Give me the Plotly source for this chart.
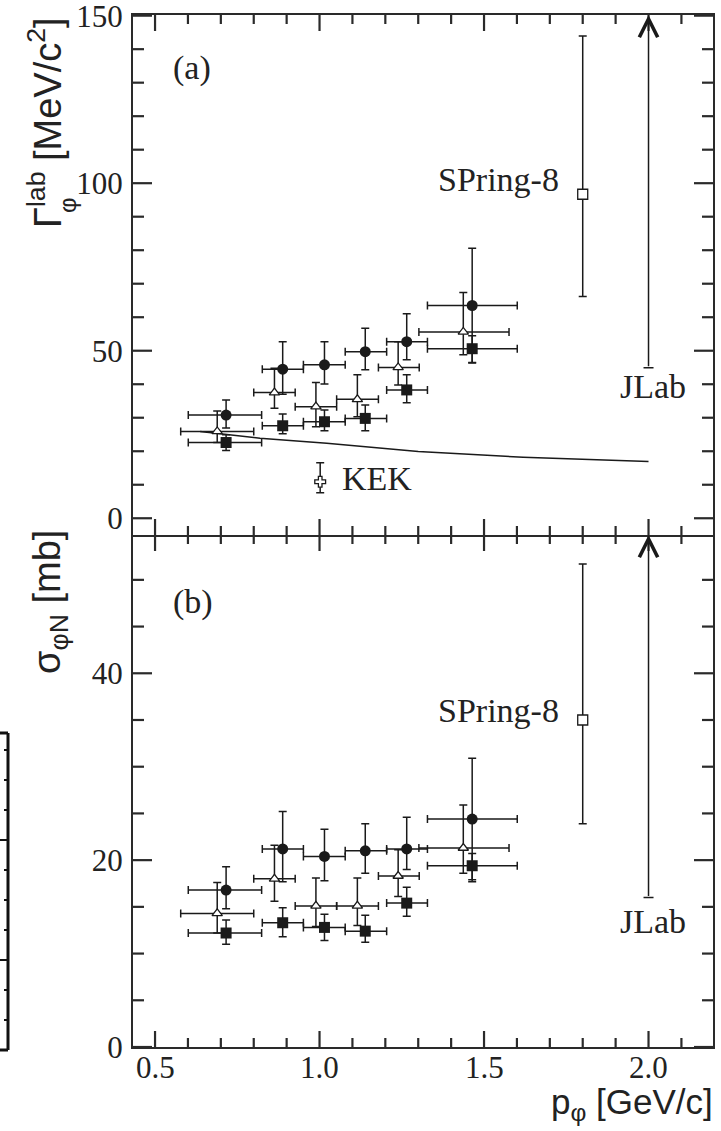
import plotly.graph_objects as go

# ---------------- data ----------------
p_main = [0.716, 0.888, 1.015, 1.139, 1.265, 1.464]
p_main_lo = [0.601, 0.826, 0.951, 1.078, 1.204, 1.328]
p_main_hi = [0.824, 0.951, 1.078, 1.204, 1.328, 1.601]
p_tri = [0.689, 0.863, 0.989, 1.115, 1.239, 1.437]
p_tri_lo = [0.578, 0.800, 0.926, 1.052, 1.179, 1.302]
p_tri_hi = [0.800, 0.926, 1.052, 1.179, 1.303, 1.576]

gam_circ = [30.8, 44.5, 45.8, 49.7, 52.7, 63.5]
gam_circ_up = [4.5, 8.2, 6.9, 7.0, 8.3, 17.1]
gam_circ_dn = [3.9, 7.5, 5.7, 5.4, 5.4, 17.0]
gam_sq = [22.6, 27.6, 28.8, 29.8, 38.3, 50.6]
gam_sq_up = [2.3, 3.5, 3.5, 4.0, 4.5, 3.9]
gam_sq_dn = [2.4, 2.4, 2.7, 3.7, 3.8, 4.3]
gam_tri = [25.9, 37.5, 33.3, 35.5, 45.0, 55.6]
gam_tri_up = [6.1, 7.3, 7.2, 7.3, 7.7, 11.8]
gam_tri_dn = [3.3, 4.7, 6.0, 5.2, 5.2, 6.8]

sig_circ = [16.8, 21.2, 20.4, 21.0, 21.2, 24.4]
sig_circ_up = [2.5, 4.0, 2.9, 2.9, 3.4, 6.5]
sig_circ_dn = [2.0, 3.5, 2.6, 2.4, 2.2, 6.5]
sig_sq = [12.2, 13.3, 12.8, 12.4, 15.4, 19.4]
sig_sq_up = [1.4, 1.6, 1.4, 1.7, 1.7, 1.3]
sig_sq_dn = [1.2, 1.5, 1.4, 1.2, 1.4, 1.7]
sig_tri = [14.3, 18.0, 15.1, 15.1, 18.3, 21.3]
sig_tri_up = [3.3, 3.6, 3.0, 3.0, 2.8, 4.6]
sig_tri_dn = [2.1, 2.4, 2.2, 2.1, 2.2, 2.7]

spring_p = [1.8]
spring_gam = [96.7]
spring_gam_up = [47.2]
spring_gam_dn = [30.5]
spring_sig = [35.0]
spring_sig_up = [16.7]
spring_sig_dn = [11.1]
jlab_p = [2.0]
jlab_gam_low = [44.9]
jlab_sig_low = [16.0]
kek_p = [1.002]
kek_gam = [10.9]
kek_gam_up = [5.7]
kek_gam_dn = [3.3]

curve_p = [0.637, 0.819, 1.022, 1.245, 1.300, 1.619, 2.0]
curve_gam = [25.9, 23.9, 22.4, 20.5, 19.9, 18.2, 16.9]

x_range = [0.433, 2.196]
x_ticks = [0.5, 1.0, 1.5, 2.0]
x_ticktext = ["0.5", "1.0", "1.5", "2.0"]
x_minor_step = 0.1
gam_range = [-5, 150.2]
gam_ticks = [0, 50, 100, 150]
gam_minor_step = 10
sig_range = [0, 54.8]
sig_ticks = [0, 20, 40]
sig_minor_step = 5

frag_minor_rows = [750, 780, 810, 870, 900, 930, 990, 1020]
frag_major_rows = [840, 960]

# ---------------- figure ----------------
W, H = 721, 1131
ML, MR, MT, MB = 133, 8, 15, 84
PW, PH = W - ML - MR, H - MT - MB
H_BOT = 512
H_TOP = PH - H_BOT
split = H_BOT / PH

INK = "#1a1a1a"
AX = "#2a2a2a"
SERIF = "Liberation Serif"
SANS = "Liberation Sans"


def minus(v, lo):
    return [a - b for a, b in zip(v, lo)]


def plus(v, hi):
    return [b - a for a, b in zip(v, hi)]


def ex(p, lo, hi):
    return dict(type="data", symmetric=False, array=plus(p, hi),
                arrayminus=minus(p, lo), color=INK, thickness=1.5, width=4)


def ey(up, dn):
    return dict(type="data", symmetric=False, array=up, arrayminus=dn,
                color=INK, thickness=1.5, width=4)


fig = go.Figure()

panels = [
    ("x2", "y2", gam_circ, gam_circ_up, gam_circ_dn, gam_sq, gam_sq_up, gam_sq_dn,
     gam_tri, gam_tri_up, gam_tri_dn, spring_gam, spring_gam_up, spring_gam_dn, jlab_gam_low),
    ("x", "y", sig_circ, sig_circ_up, sig_circ_dn, sig_sq, sig_sq_up, sig_sq_dn,
     sig_tri, sig_tri_up, sig_tri_dn, spring_sig, spring_sig_up, spring_sig_dn, jlab_sig_low),
]

for (xa, ya, c, cu, cd, s, su, sd, t, tu, td, sp, spu, spd, jl) in panels:
    if xa == "x2":
        fig.add_trace(go.Scatter(x=curve_p, y=curve_gam, mode="lines", xaxis=xa, yaxis=ya,
                                 line=dict(color=INK, width=1.5), showlegend=False))
        fig.add_trace(go.Scatter(x=kek_p, y=kek_gam, mode="markers", xaxis=xa, yaxis=ya,
                                 marker=dict(symbol="cross", size=9, color="white",
                                             line=dict(color=INK, width=1.3)),
                                 error_y=ey(kek_gam_up, kek_gam_dn), showlegend=False))
    fig.add_trace(go.Scatter(x=p_main, y=s, mode="markers", xaxis=xa, yaxis=ya,
                             marker=dict(symbol="square", size=11, color=INK),
                             error_x=ex(p_main, p_main_lo, p_main_hi), error_y=ey(su, sd),
                             showlegend=False))
    fig.add_trace(go.Scatter(x=p_main, y=c, mode="markers", xaxis=xa, yaxis=ya,
                             marker=dict(symbol="circle", size=11, color=INK),
                             error_x=ex(p_main, p_main_lo, p_main_hi), error_y=ey(cu, cd),
                             showlegend=False))
    fig.add_trace(go.Scatter(x=p_tri, y=t, mode="markers", xaxis=xa, yaxis=ya,
                             marker=dict(symbol="triangle-up", size=9, color="white",
                                         line=dict(color=INK, width=1.3)),
                             error_x=ex(p_tri, p_tri_lo, p_tri_hi), error_y=ey(tu, td),
                             showlegend=False))
    fig.add_trace(go.Scatter(x=spring_p, y=sp, mode="markers", xaxis=xa, yaxis=ya,
                             marker=dict(symbol="square", size=10, color="white",
                                         line=dict(color=INK, width=1.3)),
                             error_y=ey(spu, spd), showlegend=False))
    # lower end of the JLab limit: zero-length bar that only shows its cap
    fig.add_trace(go.Scatter(x=jlab_p, y=jl, mode="markers", xaxis=xa, yaxis=ya,
                             marker=dict(size=1, color="rgba(0,0,0,0)"),
                             error_y=dict(type="data", array=[0], arrayminus=[0],
                                          symmetric=False, color=INK, thickness=1.5,
                                          width=5),
                             showlegend=False))


def steps(lo, hi, step, start):
    vals = []
    k = 0
    while True:
        v = round(start + k * step, 6)
        if v > hi:
            break
        if v >= lo:
            vals.append(v)
        k += 1
    return vals


# tick marks drawn as line traces (lengths in pixels converted with the axis scales)
kx = PW / (x_range[1] - x_range[0])
x_all = steps(x_range[0], x_range[1], x_minor_step, 0.4)
for xa, ya, yr, major, step, hpx in (("x", "y", sig_range, sig_ticks, sig_minor_step, H_BOT),
                                     ("x2", "y2", gam_range, gam_ticks, gam_minor_step, H_TOP)):
    ky = hpx / (yr[1] - yr[0])
    tx, ty = [], []
    for v in x_all:
        L = (16 if any(abs(v - m) < 1e-6 for m in x_ticks) else 9) / ky
        tx += [v, v, None, v, v, None]
        ty += [yr[0], yr[0] + L, None, yr[1], yr[1] - L, None]
    for v in steps(yr[0], yr[1], step, 0):
        L = (19 if v in major else 11) / kx
        tx += [x_range[0], x_range[0] + L, None, x_range[1], x_range[1] - L, None]
        ty += [v, v, None, v, v, None]
    fig.add_trace(go.Scatter(x=tx, y=ty, mode="lines", xaxis=xa, yaxis=ya,
                             line=dict(color=AX, width=2.2), hoverinfo="skip",
                             connectgaps=False, showlegend=False))

tickfont = dict(family=SERIF, size=31, color="#222")
base = dict(showgrid=False, zeroline=False, showline=True, linecolor=AX,
            linewidth=2, ticks="", automargin=False,
            ticklabeloverflow="allow", tickfont=tickfont)

fig.update_layout(
    width=W, height=H,
    margin=dict(l=ML, r=MR, t=MT, b=MB, autoexpand=False),
    paper_bgcolor="white", plot_bgcolor="white",
    showlegend=False,
    xaxis=dict(base, domain=[0, 1], anchor="y", range=x_range, mirror=False,
               tickmode="array", tickvals=x_ticks, showticklabels=False),
    xaxis2=dict(base, domain=[0, 1], anchor="y2", range=x_range, mirror=True,
                tickmode="array", tickvals=x_ticks, showticklabels=False),
    yaxis=dict(base, domain=[0, split], anchor="x", range=sig_range, mirror=True,
               tickmode="array", tickvals=sig_ticks, ticklabelstandoff=2),
    yaxis2=dict(base, domain=[split, 1], anchor="x2", range=gam_range, mirror=True,
                tickmode="array", tickvals=gam_ticks, ticklabelstandoff=2),
)


def px2paper(px, py):
    return (px - ML) / PW, (H - MB - py) / PH


ann = []
# x tick labels
_, ylab = px2paper(0, 1067)
for v, txt in zip(x_ticks, x_ticktext):
    ann.append(dict(x=v, y=ylab, xref="x", yref="paper", text=txt, showarrow=False,
                    xanchor="center", yanchor="middle", font=tickfont))

for xa, ya, low, top in [("x2", "y2", jlab_gam_low[0], gam_range[1]),
                         ("x", "y", jlab_sig_low[0], sig_range[1])]:
    ann.append(dict(x=jlab_p[0], y=top, ax=jlab_p[0], ay=low, xref=xa, yref=ya,
                    axref=xa, ayref=ya, text="", showarrow=True, arrowhead=5,
                    arrowsize=2.4, arrowwidth=1.5, arrowcolor=INK, standoff=0))

lab_font = dict(family=SERIF, size=34, color="#222")
ann += [
    dict(x=1.735, y=101, xref="x2", yref="y2", text="SPring-8", showarrow=False,
         xanchor="right", yanchor="middle", font=lab_font),
    dict(x=1.735, y=36.0, xref="x", yref="y", text="SPring-8", showarrow=False,
         xanchor="right", yanchor="middle", font=lab_font),
    dict(x=2.015, y=39.2, xref="x2", yref="y2", text="JLab", showarrow=False,
         xanchor="center", yanchor="middle", font=lab_font),
    dict(x=2.015, y=13.4, xref="x", yref="y", text="JLab", showarrow=False,
         xanchor="center", yanchor="middle", font=lab_font),
    dict(x=1.062, y=12.0, xref="x2", yref="y2", text="KEK", showarrow=False,
         xanchor="left", yanchor="middle", font=lab_font),
]
ax_, ay_ = px2paper(192, 68)
ann.append(dict(x=ax_, y=ay_, xref="paper", yref="paper", text="(a)", showarrow=False,
                xanchor="center", yanchor="middle", font=lab_font))
ax_, ay_ = px2paper(193, 602)
ann.append(dict(x=ax_, y=ay_, xref="paper", yref="paper", text="(b)", showarrow=False,
                xanchor="center", yanchor="middle", font=lab_font))

title_font = dict(family=SANS, size=38, color="#222")
tx, ty = px2paper(45, 123)
ann.append(dict(x=tx, y=ty, xref="paper", yref="paper", textangle=-90,
                text="Γ<sup>lab</sup> [MeV/c<sup>2</sup>]", showarrow=False,
                font=title_font, xanchor="center", yanchor="middle"))
tx, ty = px2paper(67, 205)
ann.append(dict(x=tx, y=ty, xref="paper", yref="paper", textangle=-90,
                text="φ", showarrow=False,
                font=dict(family=SANS, size=24, color="#222"),
                xanchor="center", yanchor="middle"))
tx, ty = px2paper(50, 602)
ann.append(dict(x=tx, y=ty, xref="paper", yref="paper", textangle=-90,
                text="σ<sub>φN</sub> [mb]", showarrow=False,
                font=title_font, xanchor="center", yanchor="middle"))
tx, ty = px2paper(715, 1104)
ann.append(dict(x=tx, y=ty, xref="paper", yref="paper",
                text="p<sub>φ</sub> [GeV/c]", showarrow=False,
                font=dict(family=SANS, size=35, color="#222"),
                xanchor="right", yanchor="middle"))
fig.update_layout(annotations=ann)

# fragment of a neighbouring figure at the left border
shapes = []
x0, _ = px2paper(0, 0)
x_mid, _ = px2paper(4, 0)
x1, _ = px2paper(8, 0)
_, yt = px2paper(0, 733)
_, yb = px2paper(0, 1050)
shapes.append(dict(type="line", xref="paper", yref="paper", x0=x1, x1=x1, y0=yb, y1=yt,
                   line=dict(color="#111", width=3)))
for yy in (yt, yb):
    shapes.append(dict(type="line", xref="paper", yref="paper", x0=x0, x1=x1, y0=yy, y1=yy,
                       line=dict(color="#111", width=3)))
for r in frag_minor_rows:
    _, yy = px2paper(0, r)
    shapes.append(dict(type="line", xref="paper", yref="paper", x0=x_mid, x1=x1, y0=yy, y1=yy,
                       line=dict(color="#111", width=2)))
for r in frag_major_rows:
    _, yy = px2paper(0, r)
    shapes.append(dict(type="line", xref="paper", yref="paper", x0=x0, x1=x1, y0=yy, y1=yy,
                       line=dict(color="#111", width=2)))
fig.update_layout(shapes=shapes)

fig.write_html("out.html")
